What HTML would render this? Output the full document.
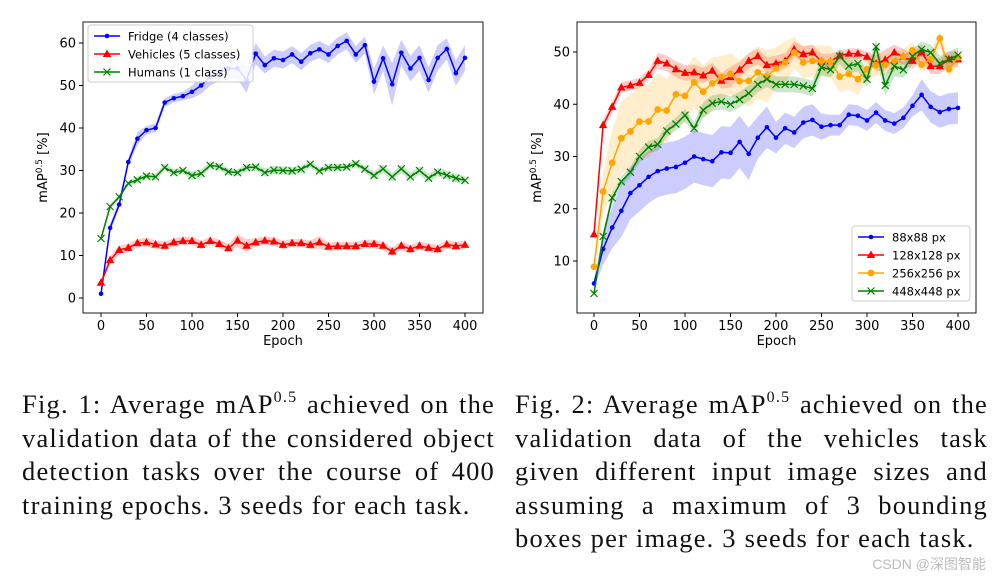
<!DOCTYPE html>
<html><head><meta charset="utf-8"><style>
body{margin:0;background:#fff;width:996px;height:582px;overflow:hidden;position:relative}
svg{position:absolute;left:0;top:0}
.cap{position:absolute;font-family:"Liberation Serif",serif;font-size:26.5px;letter-spacing:1.2px;color:#111;width:473px}
.cap div{height:33.6px;line-height:33.6px;text-align:justify;text-align-last:justify;white-space:nowrap}
.cap div.last{text-align-last:left}
sup{font-size:16px;vertical-align:0;position:relative;top:-11px}
.wm{position:absolute;right:10px;bottom:8px;font-family:"Liberation Sans","Noto Sans CJK SC",sans-serif;font-size:14px;color:#bbb}
</style></head><body>
<svg id="svg" width="996" height="582"></svg>
<div class="cap" style="left:22px;top:388px">
<div>Fig. 1: Average mAP<sup>0.5</sup> achieved on the</div>
<div>validation data of the considered object</div>
<div>detection tasks over the course of 400</div>
<div class="last">training epochs. 3 seeds for each task.</div></div>
<div class="cap" style="left:515px;top:388px">
<div>Fig. 2: Average mAP<sup>0.5</sup> achieved on the</div>
<div>validation data of the vehicles task</div>
<div>given different input image sizes and</div>
<div>assuming a maximum of 3 bounding</div>
<div class="last">boxes per image. 3 seeds for each task.</div></div>
<div class="wm">CSDN @深图智能</div>
<script>
const epochs=[0,10,20,30,40,50,60,70,80,90,100,110,120,130,140,150,160,170,180,190,200,210,220,230,240,250,260,270,280,290,300,310,320,330,340,350,360,370,380,390,400];
const fridge=[1,16.5,22,32,37.5,39.5,40,46,47,47.5,48.5,50,52,53,54,54,51.3,57.5,54.8,56.4,56,57.3,55.6,57.6,58.5,57.3,59.3,60.5,57.3,59.5,50.9,56.4,50.3,57.7,54,56.5,51.3,56.5,58.6,52.9,56.5];
const vehicles=[3.6,8.9,11.3,11.8,12.9,13.1,12.6,12.3,13.1,13.4,13.4,12.5,13.4,12.7,11.7,13.5,12.3,13.1,13.5,13.3,12.5,12.9,12.9,12.5,13.1,12.1,12.2,12.2,12.2,12.7,12.7,12.3,10.9,12.3,11.5,12.3,11.8,11.5,12.6,12.2,12.5];
const humans=[14,21.5,23.8,27,27.8,28.7,28.5,30.7,29.5,30,28.8,29.3,31.2,30.9,29.7,29.5,30.7,30.8,29.5,30.1,30,29.9,30.3,31.5,29.9,30.7,30.7,30.8,31.6,30.3,28.8,30.4,28.5,30.4,28.5,30,28.2,29.6,28.9,28.2,27.7];
const p88=[5.7,12.3,16.4,19.6,23,24.5,26.1,27.2,27.7,28,28.8,30,29.5,29.1,30.8,30.7,32.8,30.5,33.6,35.6,33.6,35.4,34.6,36.5,37,35.7,36,36,38,37.8,36.9,38.4,36.9,36.3,37.4,39.7,41.8,39.5,38.5,39.1,39.3];
const p128=[15.1,36,39.5,43.2,43.6,44.1,45.6,48.3,47.8,46.7,46,46.1,45.5,46.4,44.5,45.2,46.6,48.3,49.2,47.5,47.8,48.3,50.5,49.6,49.9,48.2,48.2,49.3,49.7,49.7,49.1,47.8,48.5,49.9,49.1,48.3,49.9,47.3,47.3,48.6,48.6];
const p256=[8.9,23.3,28.8,33.5,34.8,36.7,36.7,39,38.8,41.9,41.6,44.2,42.4,44,45.2,45.8,44.4,44.5,46.1,45.3,46.9,48,49.9,48,48.3,48.3,48.2,45.3,45.8,44.8,46.7,47.5,47.6,48.2,49.1,50.3,47.6,48.6,52.6,46.7,49];
const p448=[3.8,14.7,22.1,25.2,27,30,31.8,32.3,34.9,36.2,37.9,35.4,38.9,40.2,40.5,40,40.9,42.1,43.8,44.8,43.8,43.8,43.8,43.5,43,47.1,46.6,49.2,47.3,47.8,44.8,51,43.6,47.3,46.6,49.2,50.5,49.9,47.8,48.6,49.4];
const sdFridge=[0.5,1,1,1,1.5,1,1,1,1,1,1.5,2,2,2,2,2.5,3,2.5,2,2,2,2,2,2,2,2,2,2,2,2,3,3,5,3,3,3,3,3,2.5,3,3];
const sdVeh=[0.5,1,1,1,1,1,1,1,1,1,1,1,1,1,1,1.5,1.5,1,1,1,1,1,1,1,1.5,1,1,1,1,1,1,1,1,1,1,1,1,1,1,1,1];
const sdHum=[0.5,0.5,0.5,0.5,0.8,0.8,0.8,0.8,0.8,0.8,1,1,0.8,0.8,0.8,0.8,0.8,0.8,1,1,1,1,0.8,0.8,0.8,0.8,0.8,0.8,0.8,0.8,1,1,1,1,1,1,1,1,1,1,1];
const sd88=[1,3,4,5,5,5,5,5,5,5,5,5,5,5,5,5,5,5,4,4,3,3,3,3,3,2.5,2,2,2,2,2,2,2,2,2,2,3,3,3,3,3];
const sd128=[0.5,1,1,1,1,1,1,1.5,1.5,1.5,1.5,1.5,1.5,1.5,1.5,2,1.5,1.5,1.5,1.5,1.5,1.5,1.5,1.5,1.5,1.5,1.5,1,1,1,1,1.5,2,1.5,1.5,1.5,1.5,1.5,1.5,1.5,1.5];
const sd256=[1,4,6,7,7,7,7,7,6,6,5,5,5,5,4,4,4,5,5,5,4,4,3,3,3,3,3,3,3,3,2,2,2,2,1.5,1.5,1.5,1.5,1.5,1.5,1.5];
const sd448=[0.5,1,1,1,1,1.2,1.2,1.2,1.2,1.2,1.2,1.2,1.5,1.5,1.5,1.5,1.5,1.5,1.5,1.5,1.5,1.5,1.5,1.5,1.5,1.5,1.5,1.5,1.5,1.5,1.5,1.5,2,2,1.5,1.5,1.5,1.5,1.5,1.5,1.5];
const yTicksL=[0,10,20,30,40,50,60];
const yTicksR=[10,20,30,40,50];
const xTicks=[0,50,100,150,200,250,300,350,400];

const NS='http://www.w3.org/2000/svg', svg=document.getElementById('svg');
function el(t,a,p){const e=document.createElementNS(NS,t);for(const k in a)e.setAttribute(k,a[k]);(p||svg).appendChild(e);return e;}
function txt(s,a,p){const e=el('text',Object.assign({'font-family':'DejaVu Sans, Liberation Sans, sans-serif','font-size':13,fill:'#000'},a),p);e.textContent=s;return e;}
function marker(g,type,x,y,c){
  if(type==='dot'){const m=el('circle',{cx:x,cy:y,r:2.3,fill:c},g);}
  else if(type==='tri'){const m=el('polygon',{points:`${x},${y-4.5} ${x-4.2},${y+3} ${x+4.2},${y+3}`,fill:c},g);}
  else if(type==='pent'){const m=el('circle',{cx:x,cy:y,r:3.4,fill:c},g);}
  else{const m=el('path',{d:`M${x-3.5},${y-3.5}L${x+3.5},${y+3.5}M${x-3.5},${y+3.5}L${x+3.5},${y-3.5}`,stroke:c,'stroke-width':1.2},g);}
}
function chart(cfg){
  const {box,x0,x1,ymin,ymax,py0,py1,yticks,series,name}=cfg;
  const g=el('g',{});
  
  
  const X=v=>x0+(v-0)/400*(x1-x0), Y=v=>py0+(v-ymin)/(ymax-ymin)*(py1-py0);
  series.forEach(s=>{
    let up=epochs.map((e,i)=>X(e)+','+Y(s.v[i]+s.sd[i])).join(' ');
    let dn=epochs.map((e,i)=>X(e)+','+Y(s.v[i]-s.sd[i])).reverse().join(' ');
    const b=el('polygon',{points:up+' '+dn,fill:s.c,'fill-opacity':0.2},g);
    
    
  });
  series.forEach(s=>{
    const l=el('polyline',{points:epochs.map((e,i)=>X(e)+','+Y(s.v[i])).join(' '),fill:'none',stroke:s.c,'stroke-width':1.5},g);
    
    
    epochs.forEach((e,i)=>marker(g,s.m,X(e),Y(s.v[i]),s.c));
  });
  const fr=el('rect',{x:box[0],y:box[1],width:box[2]-box[0],height:box[3]-box[1],fill:'none',stroke:'#000','stroke-width':0.9},g);
  
  
  xTicks.forEach(t=>{el('line',{x1:X(t),x2:X(t),y1:box[3],y2:box[3]+4,stroke:'#000'},g);
    const tl=txt(String(t),{x:X(t),y:box[3]+17,'text-anchor':'middle'},g);
    
    });
  yticks.forEach(t=>{el('line',{x1:box[0]-4,x2:box[0],y1:Y(t),y2:Y(t),stroke:'#000'},g);
    const tl=txt(String(t),{x:box[0]-7,y:Y(t)+4.5,'text-anchor':'end'},g);
    
    });
  const xl=txt('Epoch',{x:(box[0]+box[2])/2,y:box[3]+32,'text-anchor':'middle'},g);
  
  
  const yx=box[0]-36, yy=(box[1]+box[3])/2;
  const yl=el('text',{transform:`translate(${yx},${yy}) rotate(-90)`,'text-anchor':'middle','font-family':'DejaVu Sans, sans-serif','font-size':13},g);
  yl.innerHTML='mAP<tspan dy="-5" font-size="9">0.5</tspan><tspan dy="5"> [%]</tspan>';
  
  
  const L=cfg.legend;
  const lg=el('g',{},g);
  
  
  el('rect',{x:L.x,y:L.y,width:L.w,height:L.h,rx:3,fill:'#fff','fill-opacity':0.85,stroke:'#ccc'},lg);
  series.forEach((s,i)=>{const yy=L.y+11+i*L.dy;
    const e=el('g',{},lg);
    
    
    el('line',{x1:L.x+6,x2:L.x+32,y1:yy,y2:yy,stroke:s.c,'stroke-width':1.5},e);
    marker(e,s.m,L.x+19,yy,s.c);
    txt(s.label,{x:L.x+40,y:yy+4.5,'font-size':L.fs},e);});
}
chart({name:'chart-fig1',box:[83,22,483,313],x0:101,x1:465,ymin:0,ymax:60,py0:298,py1:43,yticks:yTicksL,
 legend:{x:88,y:25,w:165,h:57,dy:18,fs:11.5},
 series:[{id:'fridge',label:'Fridge (4 classes)',v:fridge,sd:sdFridge,c:'#0000ff',m:'dot'},
 {id:'vehicles',label:'Vehicles (5 classes)',v:vehicles,sd:sdVeh,c:'#ff0000',m:'tri'},
 {id:'humans',label:'Humans (1 class)',v:humans,sd:sdHum,c:'#008000',m:'x'}]});
chart({name:'chart-fig2',box:[577,22,976,313],x0:594,x1:958,ymin:10,ymax:50,py0:261,py1:52,yticks:yTicksR,
 legend:{x:852,y:226,w:118,h:75,dy:18,fs:11.5},
 series:[{id:'88px',label:'88x88 px',v:p88,sd:sd88,c:'#0000ff',m:'dot'},
 {id:'128px',label:'128x128 px',v:p128,sd:sd128,c:'#ff0000',m:'tri'},
 {id:'256px',label:'256x256 px',v:p256,sd:sd256,c:'#ffa500',m:'pent'},
 {id:'448px',label:'448x448 px',v:p448,sd:sd448,c:'#008000',m:'x'}]});
</script>
</body></html>
